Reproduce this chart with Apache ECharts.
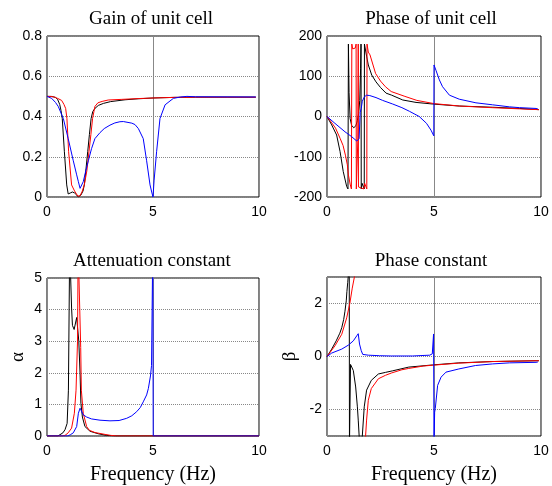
<!DOCTYPE html>
<html>
<head>
<meta charset="utf-8">
<script src="https://cdn.jsdelivr.net/npm/echarts@6/dist/echarts.min.js"></script>
<style>
  html, body { margin: 0; padding: 0; background: #fff; }
  #chart { width: 552px; height: 486px; }
</style>
</head>
<body>
<div id="chart"></div>
<script>
// axis ticks
const freqTicks = [0, 5, 10]
const gainTicks = [0, 0.8, 0.2]
const phaseTicks = [-200, 200, 100]
const alphaTicks = [0, 5, 1]
const betaRange = [-3, 3]

// gain of unit cell
const gainBlackF = [0, 0.2, 0.4, 0.5, 0.6, 0.66, 0.72, 0.82, 0.93, 1.0, 1.1, 1.2, 1.3, 1.4, 1.48, 1.6, 1.7, 1.76, 1.84, 1.92, 2.0, 2.08, 2.16, 2.26, 2.42, 2.66, 3.0, 3.68, 4.3, 5.0, 6.0, 7.0, 8.5, 9.85]
const gainBlackY = [0.5, 0.5, 0.495, 0.485, 0.46, 0.43, 0.39, 0.225, 0.06, 0.015, 0.02, 0.025, 0.02, 0.01, 0.0, 0.01, 0.03, 0.06, 0.14, 0.225, 0.31, 0.39, 0.425, 0.44, 0.455, 0.465, 0.474, 0.483, 0.488, 0.492, 0.495, 0.496, 0.496, 0.496]
const gainRedF = [0, 0.3, 0.5, 0.69, 0.8, 0.88, 0.94, 1.02, 1.16, 1.3, 1.45, 1.55, 1.65, 1.76, 1.88, 1.98, 2.07, 2.15, 2.26, 2.4, 2.6, 2.89, 3.5, 4.3, 5.0, 6.0, 7.0, 9.85]
const gainRedY = [0.5, 0.498, 0.49, 0.48, 0.46, 0.44, 0.39, 0.225, 0.06, 0.03, 0.005, 0.005, 0.025, 0.06, 0.13, 0.225, 0.31, 0.39, 0.45, 0.468, 0.475, 0.482, 0.485, 0.489, 0.492, 0.495, 0.496, 0.496]
const gainBlueF = [0, 0.22, 0.4, 0.53, 0.77, 1.0, 1.24, 1.4, 1.48, 1.56, 1.63, 1.71, 1.83, 1.95, 2.1, 2.26, 2.5, 2.7, 2.97, 3.2, 3.44, 3.6, 4.0, 4.15, 4.31, 4.54, 4.7, 4.86, 4.95, 5.0, 5.05, 5.17, 5.33, 5.57, 5.96, 6.3, 6.6, 7.0, 9.85]
const gainBlueY = [0.5, 0.49, 0.47, 0.45, 0.39, 0.29, 0.18, 0.11, 0.076, 0.043, 0.05, 0.076, 0.13, 0.18, 0.24, 0.29, 0.32, 0.34, 0.357, 0.368, 0.374, 0.375, 0.367, 0.36, 0.34, 0.29, 0.18, 0.06, 0.02, 0.0, 0.08, 0.225, 0.39, 0.458, 0.49, 0.497, 0.5, 0.498, 0.497]

// phase of unit cell (deg)
const phaseBlackF = [0, 0.22, 0.45, 0.61, 0.76, 0.92, 0.98, 1.0, 1.03, 1.08, 1.15, 1.25, 1.35, 1.42, 1.48, 1.53, 1.57, 1.59, 1.6, 1.64, 1.7, 1.74, 1.75, 1.79, 1.85, 1.93, 2.09, 2.29, 2.5, 2.76, 3.02, 3.54, 4.16, 4.94, 6.18, 7.74, 9.0, 9.9]
const phaseBlackY = [0, -21, -46, -87, -137, -174, -180, 180, 60, -5, -22, -28, -23, -10, 8, 40, 120, 180, -180, -166, -168, -180, 180, 178, 150, 128, 103, 86, 72, 58, 53, 41, 35, 31, 26, 23, 20, 17]
const phaseRedF = [0, 0.2, 0.4, 0.61, 0.75, 0.86, 0.95, 1.0, 1.08, 1.14, 1.16, 1.2, 1.26, 1.32, 1.36, 1.37, 1.44, 1.46, 1.47, 1.72, 1.76, 1.82, 1.86, 1.87, 1.93, 2.01, 2.27, 2.5, 2.73, 3.0, 3.64, 4.2, 5.0, 6.2, 7.7, 9.0, 9.9]
const phaseRedY = [0, -14, -29, -54, -72, -96, -120, -145, -168, -180, 180, 168, 165, 170, 180, -180, -60, 180, -175, -180, -166, -168, -180, 180, 160, 153, 107, 88, 74, 62, 50, 40, 32, 26, 22, 19, 17]
const phaseBlueF = [0, 0.37, 0.84, 1.15, 1.39, 1.48, 1.5, 1.55, 1.6, 1.65, 1.75, 1.85, 2.0, 2.29, 2.6, 3.07, 3.5, 3.85, 4.31, 4.65, 4.86, 4.99, 5.0, 5.09, 5.25, 5.4, 5.72, 6.18, 6.96, 7.74, 8.52, 9.0, 9.77, 9.85]
const phaseBlueY = [0, -17, -38, -50, -61, -63, -55, 10, 20, 38, 49, 53, 52, 47, 40, 31, 22, 13, 0, -17, -34, -48, 128, 115, 91, 74, 53, 43, 34, 29, 24, 22, 20, 19]

// attenuation constant
const alphaBlackF = [0, 0.5, 0.61, 0.75, 0.85, 0.95, 1.01, 1.04, 1.07, 1.14, 1.16, 1.2, 1.28, 1.34, 1.4, 1.44, 1.5, 1.56, 1.6, 1.67, 1.79, 2.03, 2.42, 2.8, 3.2, 10]
const alphaBlackY = [0, 0, 0.04, 0.1, 0.2, 0.4, 1.45, 1.5, 6, 6, 4.05, 3.5, 3.37, 3.4, 3.75, 3.79, 3.0, 1.97, 1.03, 0.6, 0.3, 0.15, 0.07, 0.02, 0, 0]
const alphaRedF = [0, 0.7, 0.85, 1.0, 1.16, 1.29, 1.37, 1.44, 1.47, 1.56, 1.59, 1.62, 1.71, 1.87, 2.0, 2.26, 2.74, 3.0, 3.3, 10]
const alphaRedY = [0, 0, 0.02, 0.1, 0.25, 0.72, 1.45, 3.0, 6, 6, 2.8, 1.45, 0.72, 0.3, 0.18, 0.11, 0.05, 0.02, 0, 0]
const alphaBlueF = [0, 0.98, 1.1, 1.24, 1.4, 1.48, 1.56, 1.62, 1.71, 1.87, 2.1, 2.5, 2.97, 3.4, 3.76, 4.0, 4.23, 4.4, 4.54, 4.7, 4.78, 4.88, 4.93, 4.99, 5.01, 10]
const alphaBlueY = [0, 0, 0.04, 0.1, 0.3, 0.72, 0.88, 0.82, 0.67, 0.6, 0.54, 0.5, 0.48, 0.49, 0.56, 0.64, 0.77, 0.9, 1.08, 1.3, 1.5, 1.9, 2.23, 6, 0, 0]

// phase constant (null = gap)
const betaBlackF = [0, 0.22, 0.43, 0.6, 0.69, 0.78, 0.84, 0.9, 0.93, 0.97, 1.0, 1.04, 1.05, 1.1, 1.12, 1.23, 1.34, 1.42, 1.46, 1.51, 1.55, 1.62, 1.65, 1.74, 1.85, 2.07, 2.4, 2.73, 3.07, 3.82, 4.92, 6.16, 7.74, 9.77, 9.9]
const betaBlackY = [0, 0.28, 0.59, 0.88, 1.09, 1.4, 1.71, 2.1, 2.45, 2.8, 3.1, 3.3, -3.3, -0.3, -0.34, -0.53, -1.15, -1.9, -2.4, -3.1, -3.3, -3.3, -3.0, -1.9, -1.27, -0.9, -0.66, -0.6, -0.54, -0.4, -0.32, -0.24, -0.19, -0.16, -0.16]
const betaRedF = [0, 0.37, 0.69, 0.92, 1.07, 1.18, 1.28, 1.31, 1.5, 1.78, 1.85, 1.93, 2.07, 2.4, 2.73, 3.02, 3.5, 3.82, 4.5, 4.92, 6.16, 7.74, 9.77, 9.9]
const betaRedY = [0, 0.4, 0.84, 1.46, 2.02, 2.58, 3.0, 3.3, null, -3.3, -2.4, -1.65, -1.21, -0.84, -0.71, -0.62, -0.5, -0.45, -0.36, -0.33, -0.25, -0.19, -0.16, -0.16]
const betaBlueF = [0, 0.22, 0.69, 1.0, 1.23, 1.39, 1.46, 1.52, 1.6, 1.67, 1.93, 2.45, 3.0, 4.0, 4.8, 4.92, 4.98, 5.0, 5.03, 5.06, 5.17, 5.33, 5.56, 6.16, 6.94, 7.74, 8.52, 9.77, 9.85]
const betaBlueY = [0, 0.13, 0.28, 0.43, 0.59, 0.78, 0.86, 0.47, 0.22, 0.08, 0.05, 0.03, 0.02, 0.02, 0.05, 0.1, 0.85, -3.3, -2.1, -1.96, -1.09, -0.78, -0.59, -0.47, -0.34, -0.28, -0.24, -0.22, -0.21]

const pairs = (fs, ys) => fs.map((f, i) => [f, ys[i]])

const serif = 'Liberation Serif'
const sans = 'Liberation Sans'

const grids = [
  { left: 47, top: 36, width: 212, height: 161 },
  { left: 327, top: 36, width: 214, height: 161 },
  { left: 47, top: 278, width: 212, height: 160 },
  { left: 327, top: 277, width: 214, height: 161 }
].map(g => Object.assign(g, { show: true, borderColor: '#000', borderWidth: 1, backgroundColor: '#fff' }))

const titles = [
  { text: 'Gain of unit cell', left: 151, top: 10 },
  { text: 'Phase of unit cell', left: 431, top: 10 },
  { text: 'Attenuation constant', left: 152, top: 252 },
  { text: 'Phase constant', left: 431, top: 252 }
].map(t => Object.assign(t, { textAlign: 'center', padding: 0, textStyle: { fontFamily: serif, fontSize: 19, fontWeight: 'normal', color: '#000' } }))

const xAxes = [0, 1, 2, 3].map(i => ({
  type: 'value', gridIndex: i,
  min: freqTicks[0], max: freqTicks[2], interval: freqTicks[1] - freqTicks[0],
  axisLine: { show: false }, axisTick: { show: false },
  axisLabel: { fontFamily: sans, fontSize: 14, color: '#000', margin: 8 },
  splitLine: { show: true, lineStyle: { color: '#888', width: 1, type: 'solid' } },
  name: i >= 2 ? 'Frequency (Hz)' : '',
  nameLocation: 'middle', nameGap: 29,
  nameTextStyle: { fontFamily: serif, fontSize: 20, color: '#000' }
}))

const ySplit = { show: true, lineStyle: { color: '#888', width: 1, type: 'dotted' } }
const yLabel = { fontFamily: sans, fontSize: 14, color: '#000', margin: 5 }
const yBase = { type: 'value', axisLine: { show: false }, axisTick: { show: false }, axisLabel: yLabel, splitLine: ySplit }

const yAxes = [
  Object.assign({}, yBase, { gridIndex: 0, min: gainTicks[0], max: gainTicks[1], interval: gainTicks[2] }),
  Object.assign({}, yBase, { gridIndex: 1, min: phaseTicks[0], max: phaseTicks[1], interval: phaseTicks[2] }),
  Object.assign({}, yBase, {
    gridIndex: 2, min: alphaTicks[0], max: alphaTicks[1], interval: alphaTicks[2],
    name: 'α', nameLocation: 'middle', nameGap: 19, nameTextStyle: { fontFamily: serif, fontSize: 19, color: '#000' }
  }),
  Object.assign({}, yBase, {
    gridIndex: 3, min: betaRange[0], max: betaRange[1], splitNumber: 3,
    axisLabel: Object.assign({}, yLabel, { showMinLabel: false, showMaxLabel: false }),
    name: 'β', nameLocation: 'middle', nameGap: 27, nameTextStyle: { fontFamily: serif, fontSize: 19, color: '#000' }
  })
]

const colors = { black: '#000000', red: '#ff0000', blue: '#0000ff' }
const panels = [
  [[gainBlackF, gainBlackY], [gainRedF, gainRedY], [gainBlueF, gainBlueY]],
  [[phaseBlackF, phaseBlackY], [phaseRedF, phaseRedY], [phaseBlueF, phaseBlueY]],
  [[alphaBlackF, alphaBlackY], [alphaRedF, alphaRedY], [alphaBlueF, alphaBlueY]],
  [[betaBlackF, betaBlackY], [betaRedF, betaRedY], [betaBlueF, betaBlueY]]
]
const colorOrder = [colors.black, colors.red, colors.blue]

const series = []
panels.forEach((p, i) => {
  p.forEach(([fs, ys], j) => {
    series.push({
      type: 'line', xAxisIndex: i, yAxisIndex: i,
      data: pairs(fs, ys), showSymbol: false, symbol: 'none',
      connectNulls: false, clip: true, silent: true,
      lineStyle: { color: colorOrder[j], width: 1 }
    })
  })
})

const chart = echarts.init(document.getElementById('chart'))
chart.setOption({
  animation: false,
  backgroundColor: '#fff',
  title: titles,
  grid: grids,
  xAxis: xAxes,
  yAxis: yAxes,
  series: series
})
</script>
</body>
</html>
